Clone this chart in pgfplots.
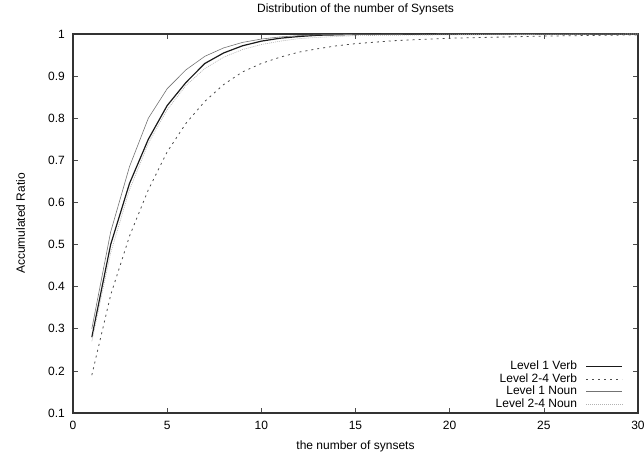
\documentclass[border=0pt]{standalone}
\usepackage{fontspec}
\setmainfont{Liberation Sans}
\usepackage{pgfplots}
\pgfplotsset{compat=1.18}
\begin{document}
\fontsize{12bp}{14bp}\selectfont
\begin{tikzpicture}
\begin{axis}[
  scale only axis, width=565bp, height=379bp,
  xmin=0, xmax=30, ymin=0.1, ymax=1,
  xtick={0,5,...,30}, ytick={0.1,0.2,...,1.0},
  tick align=inside, major tick length=5bp,
  axis line style={line width=1.1pt, black!80},
  every tick/.style={black!70, line width=0.6pt},
  /pgf/number format/assume math mode=true,
  tick label style={font=\fontsize{12bp}{14bp}\selectfont},
  xticklabel style={yshift=-4bp},
  yticklabel style={xshift=-4bp,/pgf/number format/fixed,/pgf/number format/precision=1},
  title={Distribution of the number of Synsets},
  title style={font=\fontsize{12bp}{14bp}\selectfont, at={(axis description cs:0.5,1)}, anchor=base, yshift=16bp},
  xlabel={the number of synsets},
  ylabel={Accumulated Ratio},
  every axis x label/.style={at={(axis description cs:0.5,0)}, anchor=base, yshift=-37bp, font=\fontsize{12bp}{14bp}\selectfont},
  every axis y label/.style={at={(axis description cs:0,0.5)}, xshift=-48bp, rotate=90, anchor=base, font=\fontsize{12bp}{14bp}\selectfont},
  legend plot pos=right,
  legend cell align=right,
  legend image code/.code={\draw[#1] (0bp,0bp) -- (36bp,0bp);},
  legend style={draw=none, fill=none, inner sep=0pt, at={(rel axis cs:1,0)}, anchor=south east,
    xshift=-15bp, yshift=2.5bp,
    font=\fontsize{12bp}{14bp}\selectfont, row sep=0pt, column sep=0pt,
    nodes={text height=8.8bp, text depth=2.7bp, inner sep=0.5bp},
    /tikz/every odd column/.append style={column sep=8bp}},
]
\addplot[black!90, line width=1.2pt] coordinates {
(1,0.28)(2,0.50)(3,0.645)(4,0.75)(5,0.83)(6,0.885)(7,0.93)(8,0.955)(9,0.972)(10,0.983)(11,0.99)(12,0.994)(13,0.997)(15,0.999)(20,1.0)(25,1.0)(30,1.0)};
\addlegendentry{Level 1 Verb}
\addplot[black!70, line width=0.8pt, dash pattern=on 2bp off 4bp] coordinates {
(1,0.19)(2,0.38)(3,0.52)(4,0.63)(5,0.72)(6,0.788)(7,0.84)(8,0.88)(9,0.91)(10,0.93)(11,0.945)(12,0.957)(13,0.965)(14,0.972)(15,0.977)(17,0.984)(20,0.99)(25,0.995)(30,0.998)};
\addlegendentry{Level 2-4 Verb}
\addplot[black!55, line width=0.6pt] coordinates {
(1,0.30)(2,0.53)(3,0.685)(4,0.80)(5,0.87)(6,0.915)(7,0.947)(8,0.967)(9,0.98)(10,0.988)(11,0.993)(12,0.996)(13,0.998)(15,0.999)(20,1.0)(25,1.0)(30,1.0)};
\addlegendentry{Level 1 Noun}
\addplot[black!30, line width=0.6pt, dash pattern=on 1pt off 1pt] coordinates {
(1,0.27)(2,0.48)(3,0.63)(4,0.74)(5,0.82)(6,0.878)(7,0.918)(8,0.945)(9,0.963)(10,0.975)(11,0.983)(12,0.989)(13,0.992)(14,0.994)(15,0.996)(17,0.997)(20,0.998)(25,0.999)(30,1.0)};
\addlegendentry{Level 2-4 Noun}
\end{axis}
\pgfresetboundingbox
\path[use as bounding box] ([xshift=-73bp,yshift=-40bp]current axis.south west) rectangle ([xshift=6bp,yshift=34bp]current axis.north east);
\end{tikzpicture}
\end{document}
